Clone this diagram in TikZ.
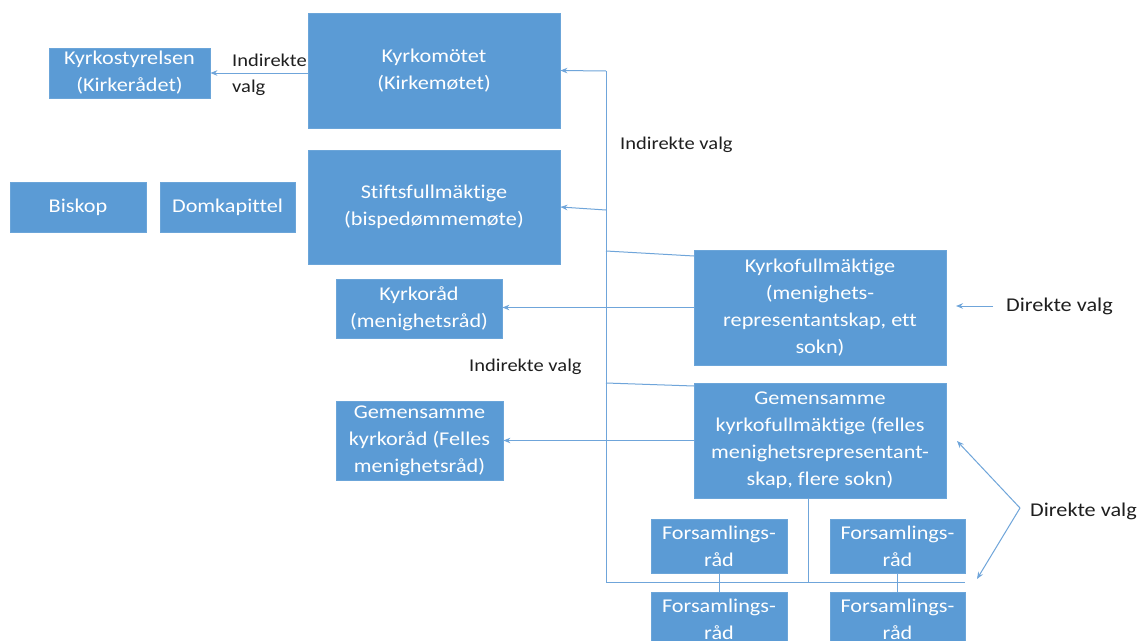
\documentclass[tikz,border=0pt]{standalone}
\usepackage{fontspec}
\setmainfont{Carlito}[FakeStretch=1.14, Ligatures={NoCommon}]
\usetikzlibrary{arrows.meta}
\definecolor{boxblue}{HTML}{5B9BD5}
\definecolor{lineblue}{HTML}{6FA5DA}
\definecolor{labelgray}{HTML}{1F1F1F}
\tikzset{
  bx/.style={fill=boxblue, draw=boxblue!90!white, line width=0.8pt, text=white, align=center,
    inner sep=0pt, font=\fontsize{19.5}{27}\selectfont},
  conn/.style={draw=lineblue, line width=1pt},
  arr/.style={conn, -{Stealth[length=7pt,width=5.5pt]}},
  lbl/.style={text=labelgray, inner sep=0pt, font=\fontsize{18}{26}\selectfont},
  lblbig/.style={lbl, font=\fontsize{19.5}{26}\selectfont},
}
\begin{document}
\begin{tikzpicture}[x=1pt,y=-1pt]
\clip (0,0) rectangle (1143,640);
\fill[white] (0,0) rectangle (1143,640);
% boxes
\node[bx, minimum width=161pt, minimum height=50pt] (kst) at (129.5,73) {Kyrkostyrelsen\\(Kirkerådet)};
\node[bx, minimum width=252pt, minimum height=115pt] (km) at (434,70.5) {Kyrkomötet\\(Kirkemøtet)};
\node[bx, minimum width=136pt, minimum height=50pt] (bis) at (78,207) {Biskop};
\node[bx, minimum width=135pt, minimum height=50pt] (dom) at (227.5,207) {Domkapittel};
\node[bx, minimum width=252pt, minimum height=114pt] (sf) at (434,207) {Stiftsfullmäktige\\(bispedømmemøte)};
\node[bx, minimum width=166pt, minimum height=59pt] (kr) at (419,308.5) {Kyrkoråd\\(menighetsråd)};
\node[bx, minimum width=252pt, minimum height=115pt] (kf) at (820,307.5) {Kyrkofullmäktige\\(menighets-\\representantskap, ett\\sokn)};
\node[bx, minimum width=167pt, minimum height=79pt] (gkr) at (419.5,440.5) {Gemensamme\\kyrkoråd (Felles\\menighetsråd)};
\node[bx, minimum width=252pt, minimum height=115pt] (gkf) at (820,440.5) {Gemensamme\\kyrkofullmäktige (felles\\menighetsrepresentant-\\skap, flere sokn)};
\node[bx, minimum width=136pt, minimum height=54pt] (f1) at (719,546) {Forsamlings-\\råd};
\node[bx, minimum width=135pt, minimum height=54pt] (f2) at (897.5,546) {Forsamlings-\\råd};
\node[bx, minimum width=136pt, minimum height=54pt] (f3) at (719,619) {Forsamlings-\\råd};
\node[bx, minimum width=135pt, minimum height=54pt] (f4) at (897.5,619) {Forsamlings-\\råd};
% labels
\node[lbl, anchor=west, align=left] (l1) at (232,75) {Indirekte\\valg};
\node[lbl, anchor=west] (l2) at (620,145) {Indirekte valg};
\node[lbl, anchor=west] (l3) at (469,367) {Indirekte valg};
\node[lblbig, anchor=west] (dv1) at (1006,306) {Direkte valg};
\node[lblbig, anchor=west] (dv2) at (1030,511) {Direkte valg};
% coordinates
\coordinate (sTop) at (606,71);
\coordinate (sSf) at (606,210);
\coordinate (sKf) at (606,251);
\coordinate (sGkf) at (606,383);
\coordinate (sBot) at (606,582);
\coordinate (hEnd) at (965,582);
\coordinate (gDrop) at (808,498);
\coordinate (gJoin) at (808,582);
\coordinate (kfIn) at (694,256);
\coordinate (gkfIn) at (694,386);
\coordinate (dvA) at (993,306);
\coordinate (dvB) at (1020,508);
\coordinate (tipUp) at (957,441);
\coordinate (tipDown) at (977,579);
% connectors
\draw[arr] (km.west |- kst.east) -- (kst.east);
\draw[conn] (sTop) -- (sBot) -- (hEnd);
\draw[arr] (sTop) -- (km.east);
\draw[arr] (sSf) -- (sf.east);
\draw[conn] (sKf) -- (kfIn);
\draw[conn] (sGkf) -- (gkfIn);
\draw[arr] (kf.west) -- (kr.east |- kf.west);
\draw[arr] (gkf.west) -- (gkr.east);
\draw[conn] (gDrop) -- (gJoin);
\draw[conn] (f1.south) -- (f3.north);
\draw[conn] (f2.south) -- (f4.north);
\draw[arr] (dvA) -- (956,306);
\draw[arr] (dvB) -- (tipUp);
\draw[arr] (dvB) -- (tipDown);
\end{tikzpicture}
\end{document}
